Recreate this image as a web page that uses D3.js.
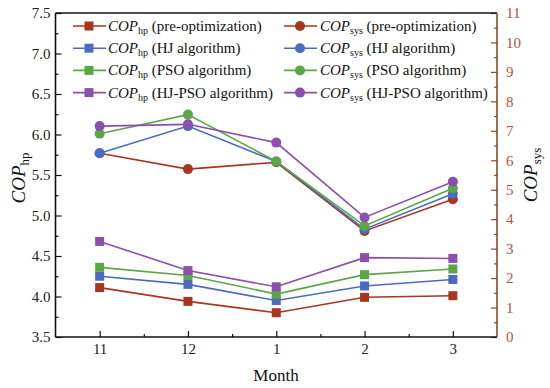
<!DOCTYPE html>
<html><head><meta charset="utf-8">
<script src="https://cdn.jsdelivr.net/npm/d3@7"></script>
<style>body{margin:0;background:#fff}svg{display:block}</style>
</head><body><svg id="c" width="550" height="388" font-family="Liberation Serif"></svg>
<script>
const months = ["11","12","1","2","3"];
const seriesNames = ["pre-optimization","HJ algorithm","PSO algorithm","HJ-PSO algorithm"];
const colors = ["#A8361F","#4A6CC0","#5BA647","#8B4FAD"];
const hpPre = [4.11,3.94,3.80,3.99,4.01];
const hpHJ = [4.25,4.15,3.95,4.13,4.21];
const hpPSO = [4.36,4.26,4.03,4.27,4.34];
const hpHJPSO = [4.68,4.32,4.12,4.48,4.47];
const sysPre = [6.24,5.70,5.93,3.60,4.68];
const sysHJ = [6.24,7.16,5.96,3.66,4.86];
const sysPSO = [6.90,7.55,5.96,3.77,5.05];
const sysHJPSO = [7.16,7.22,6.60,4.06,5.27];
const leftTicks = [3.5,4.0,4.5,5.0,5.5,6.0,6.5,7.0,7.5];
const rightTicks = [0,1,2,3,4,5,6,7,8,9,10,11];

const FF = "Liberation Serif";
const hp = [hpPre,hpHJ,hpPSO,hpHJPSO];
const sys = [sysPre,sysHJ,sysPSO,sysHJPSO];
const svg = d3.select("#c");
const L=55.5,R=497,T=13,B=337;
const x = d3.scaleLinear().domain([-0.5,4.5]).range([L,R]);
const yL = d3.scaleLinear().domain([3.5,7.5]).range([B,T]);
const yR = d3.scaleLinear().domain([0,11]).range([B,T]);
const axisCol = "#111";
const rCol = "#8B4A2B";
const rTxt = "#B0544A";
const tfs = 15;

// left axis
const gl = svg.append("g").attr("transform",`translate(${L},0)`);
gl.call(d3.axisLeft(yL).tickValues(leftTicks).tickSize(-6).tickPadding(5).tickFormat(d3.format(".1f")));
gl.append("g").call(d3.axisLeft(yL).tickValues(d3.range(3.75,7.5,0.5)).tickSize(-3).tickFormat(""));
gl.selectAll("path").remove();
gl.selectAll("line").attr("stroke",axisCol).attr("stroke-width",1.2);
gl.selectAll("text").attr("font-size",tfs).attr("fill","#222").attr("font-family",FF);

// right axis
const gr = svg.append("g").attr("transform",`translate(${R},0)`);
gr.call(d3.axisRight(yR).tickValues(rightTicks).tickSize(-6).tickPadding(9).tickFormat(d3.format("d")));
gr.append("g").call(d3.axisRight(yR).tickValues(d3.range(0.5,11,1)).tickSize(-3).tickFormat(""));
gr.selectAll("path").remove();
gr.selectAll("line").attr("stroke",rCol).attr("stroke-width",1.2);
gr.selectAll("text").attr("font-size",tfs).attr("fill",rTxt).attr("font-family",FF);

// bottom axis
const gb = svg.append("g").attr("transform",`translate(0,${B})`);
gb.call(d3.axisBottom(x).tickValues([0,1,2,3,4]).tickSize(-6).tickPadding(6).tickFormat(i=>months[i]));
gb.append("g").call(d3.axisBottom(x).tickValues([0.5,1.5,2.5,3.5]).tickSize(-3).tickFormat(""));
gb.selectAll("path").remove();
gb.selectAll("line").attr("stroke",axisCol).attr("stroke-width",1.2);
gb.selectAll("text").attr("font-size",tfs).attr("fill","#222").attr("font-family",FF);

// frame
svg.append("line").attr("x1",L).attr("x2",L).attr("y1",T).attr("y2",B).attr("stroke",axisCol).attr("stroke-width",1.6);
svg.append("line").attr("x1",L).attr("x2",R).attr("y1",B).attr("y2",B).attr("stroke",axisCol).attr("stroke-width",1.6);
svg.append("line").attr("x1",L).attr("x2",R).attr("y1",T).attr("y2",T).attr("stroke",axisCol).attr("stroke-width",1.4);
svg.append("line").attr("x1",R).attr("x2",R).attr("y1",T).attr("y2",B).attr("stroke",rCol).attr("stroke-width",1.6);

// series
const lineL = d3.line().x((d,i)=>x(i)).y(d=>yL(d));
const lineR = d3.line().x((d,i)=>x(i)).y(d=>yR(d));
hp.forEach((s,k)=>{
  svg.append("path").attr("d",lineL(s)).attr("fill","none").attr("stroke",colors[k]).attr("stroke-width",1.6);
  svg.selectAll(null).data(s).enter().append("rect")
    .attr("x",(d,i)=>x(i)-4.5).attr("y",d=>yL(d)-4.5).attr("width",9).attr("height",9).attr("fill",colors[k]);
});
sys.forEach((s,k)=>{
  svg.append("path").attr("d",lineR(s)).attr("fill","none").attr("stroke",colors[k]).attr("stroke-width",1.6);
  svg.selectAll(null).data(s).enter().append("circle")
    .attr("cx",(d,i)=>x(i)).attr("cy",d=>yR(d)).attr("r",5).attr("fill",colors[k]);
});

// legend
const fs = 15;
function label(g, tx, ty, sub, name){
  const t = g.append("text").attr("x",tx).attr("y",ty).attr("font-size",fs).attr("fill","#111").attr("font-family",FF);
  t.append("tspan").attr("font-style","italic").text("COP");
  t.append("tspan").attr("font-size",10).attr("dy",3).text(sub);
  t.append("tspan").attr("dy",-3).text(" ("+name+")");
}
const lg = svg.append("g");
seriesNames.forEach((n,k)=>{
  const cy = 26 + k*22.2;
  lg.append("line").attr("x1",73).attr("x2",106).attr("y1",cy).attr("y2",cy).attr("stroke",colors[k]).attr("stroke-width",1.6);
  lg.append("rect").attr("x",89-4.5).attr("y",cy-4.5).attr("width",9).attr("height",9).attr("fill",colors[k]);
  label(lg,108,cy+5,"hp",n);
  lg.append("line").attr("x1",284).attr("x2",317).attr("y1",cy).attr("y2",cy).attr("stroke",colors[k]).attr("stroke-width",1.6);
  lg.append("circle").attr("cx",300).attr("cy",cy).attr("r",5).attr("fill",colors[k]);
  label(lg,320,cy+5,"sys",n);
});

// axis titles
function title(tx,ty,sub){
  const t = svg.append("text").attr("transform",`translate(${tx},${ty}) rotate(-90)`).attr("text-anchor","middle").attr("font-size",19).attr("fill","#111").attr("font-family",FF);
  t.append("tspan").attr("font-style","italic").text("COP");
  t.append("tspan").attr("font-size",13).attr("dy",4).text(sub);
}
title(25,178,"hp");
title(537,175,"sys");
svg.append("text").attr("x",276).attr("y",381).attr("text-anchor","middle").attr("font-size",17).attr("fill","#111").attr("font-family",FF).text("Month");
</script></body></html>
